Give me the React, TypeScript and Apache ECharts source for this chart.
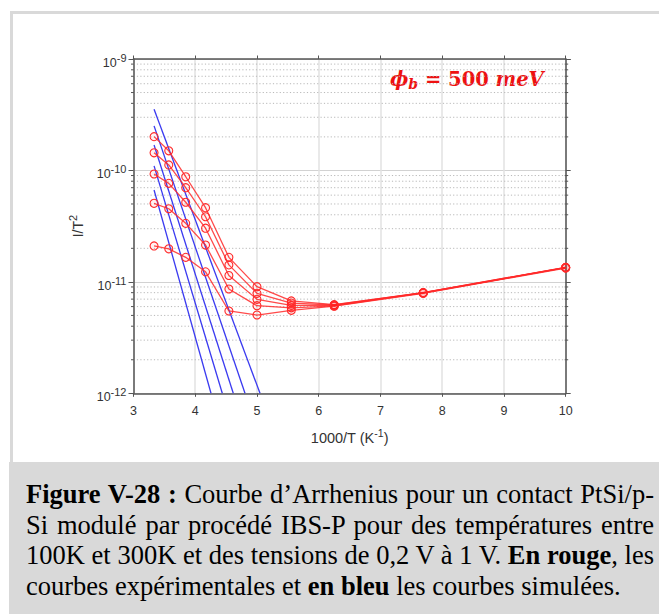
import React, { useEffect, useRef } from "react";
import * as echarts from "echarts";

// 1000/T values (K^-1) for T = 300, 280, 260, 240, 220, 200, 180, 160, 130, 100 K
const invT = [3.333, 3.571, 3.846, 4.167, 4.545, 5.0, 5.556, 6.25, 7.692, 10];

// Experimental I/T^2 curves (red), from highest to lowest bias
const exp1 = [2.01e-10, 1.5e-10, 8.78e-11, 4.63e-11, 1.66e-11, 9.05e-12, 6.74e-12, 6.25e-12, 8.0e-12, 1.35e-11];
const exp2 = [1.44e-10, 1.12e-10, 7.0e-11, 3.84e-11, 1.42e-11, 7.89e-12, 6.45e-12, 6.2e-12, 8.0e-12, 1.35e-11];
const exp3 = [9.29e-11, 7.66e-11, 5.18e-11, 3.03e-11, 1.14e-11, 6.97e-12, 6.15e-12, 6.15e-12, 7.95e-12, 1.34e-11];
const exp4 = [5.07e-11, 4.53e-11, 3.35e-11, 2.14e-11, 8.63e-12, 6.11e-12, 5.85e-12, 6.1e-12, 7.95e-12, 1.34e-11];
const exp5 = [2.1e-11, 1.98e-11, 1.66e-11, 1.23e-11, 5.48e-12, 5.04e-12, 5.55e-12, 6.05e-12, 7.9e-12, 1.33e-11];
const expCurves = [exp1, exp2, exp3, exp4, exp5];

// Simulated curves (blue): start point and end point on the 1e-12 floor
const simStartX = 3.333;
const simStartY = [3.54e-10, 2.51e-10, 1.69e-10, 1.1e-10, 6.67e-11];
const simEndX = [5.049, 4.806, 4.616, 4.438, 4.255];
const simEndY = 1e-12;

// Axis ranges
const xMin = 3;
const xMax = 10;
const yMin = 1e-12;
const yMax = 1e-9;
const minorMultipliers = [2, 3, 4, 5, 6, 7, 8, 9];
const decadeExps = [-12, -11, -10];

const captionLines = [
  [{ b: true, t: "Figure V-28 :" }, { b: false, t: " Courbe d\u2019Arrhenius pour un contact PtSi/p-" }],
  [{ b: false, t: "Si modulé par procédé IBS-P pour des températures entre" }],
  [{ b: false, t: "100K et 300K et des tensions de 0,2 V à 1 V. " }, { b: true, t: "En rouge" }, { b: false, t: ", les" }],
  [{ b: false, t: "courbes expérimentales et " }, { b: true, t: "en bleu" }, { b: false, t: " les courbes simulées." }],
];

const SANS = "'Liberation Sans', Arial, sans-serif";
const RED = "#ff2a2a";
const BLUE = "#3a3af0";

export default function App() {
  const ref = useRef<HTMLDivElement>(null);

  useEffect(() => {
    if (!ref.current) return;
    const chart = echarts.init(ref.current, undefined, { renderer: "svg" });

    const minorY: number[] = [];
    decadeExps.forEach((e) => minorMultipliers.forEach((m) => minorY.push(m * Math.pow(10, e))));

    const axisLineStyle = { color: "#555", width: 1.5 };

    const series: any[] = [];

    series.push({
      type: "custom",
      silent: true,
      clip: false,
      z: 1,
      data: minorY.map((v) => [xMin, v]),
      renderItem: (params: any, api: any) => {
        const cs = params.coordSys;
        const y = api.coord([xMin, api.value(1)])[1];
        return {
          type: "group",
          children: [
            { type: "line", shape: { x1: cs.x, y1: y, x2: cs.x + cs.width, y2: y }, style: { stroke: "#b8b8b8", lineWidth: 1, lineDash: [1.2, 2.2] } },
            { type: "line", shape: { x1: cs.x - 2.5, y1: y, x2: cs.x + 1, y2: y }, style: { stroke: "#555", lineWidth: 1 } },
            { type: "line", shape: { x1: cs.x + cs.width - 1, y1: y, x2: cs.x + cs.width + 2.5, y2: y }, style: { stroke: "#555", lineWidth: 1 } },
          ],
        };
      },
    });

    simStartY.forEach((s, i) => {
      series.push({
        type: "line",
        z: 3,
        showSymbol: false,
        data: [
          [simStartX, s],
          [simEndX[i], simEndY],
        ],
        lineStyle: { color: BLUE, width: 1.3 },
      });
    });

    expCurves.forEach((c) => {
      series.push({
        type: "line",
        z: 4,
        symbol: "circle",
        symbolSize: 8,
        data: invT.map((x, i) => [x, c[i]]),
        lineStyle: { color: RED, width: 1.3, opacity: 0.85 },
        itemStyle: { color: "rgba(255,0,0,0.05)", borderColor: RED, borderWidth: 1.1 },
      });
    });

    const yLabelRich = {
      b: { fontSize: 12.5, color: "#333", fontFamily: SANS },
      s: { fontSize: 11, color: "#333", fontFamily: SANS, padding: [0, 0, 10, 0] },
    };

    const serif = "'DejaVu Serif', serif";
    chart.setOption({
      animation: false,
      grid: { left: 133.5, right: 93.3, top: 59, bottom: 68.7 },
      graphic: [
        {
          type: "text",
          left: 390,
          top: 69,
          style: {
            text: "{p|ϕ}{s|b}{n| = 500 }{m|meV}",
            fill: "#ee1111",
            rich: {
              p: { fontFamily: serif, fontWeight: "bold", fontStyle: "italic", fontSize: 19.5, fill: "#ee1111" },
              s: { fontFamily: serif, fontWeight: "bold", fontStyle: "italic", fontSize: 14, fill: "#ee1111", padding: [9, 0, 0, 0] },
              n: { fontFamily: serif, fontWeight: "bold", fontSize: 19.5, fill: "#ee1111" },
              m: { fontFamily: serif, fontWeight: "bold", fontStyle: "italic", fontSize: 19.5, fill: "#ee1111" },
            },
          },
        },
      ],
      xAxis: [
        {
          type: "value",
          min: xMin,
          max: xMax,
          interval: 1,
          position: "bottom",
          name: "1000/T (K{s|-1})",
          nameLocation: "middle",
          nameGap: 34,
          nameTextStyle: {
            fontSize: 14.5,
            color: "#333",
            fontFamily: SANS,
            rich: { s: { fontSize: 10.5, color: "#333", fontFamily: SANS, padding: [0, 0, 10, 0] } },
          },
          axisLine: { lineStyle: axisLineStyle },
          axisTick: { show: true, inside: false, length: 3.5, lineStyle: { color: "#555", width: 1 } },
          axisLabel: { color: "#333", fontSize: 12.5, fontFamily: SANS, margin: 11 },
          splitLine: { show: true, lineStyle: { color: "#e2e2e2", width: 1.5 } },
        },
        {
          type: "value",
          min: xMin,
          max: xMax,
          interval: 1,
          position: "top",
          axisLine: { lineStyle: axisLineStyle },
          axisTick: { show: true, inside: false, length: 3.5, lineStyle: { color: "#555", width: 1 } },
          axisLabel: { show: false },
          splitLine: { show: false },
        },
      ],
      yAxis: [
        {
          type: "log",
          logBase: 10,
          min: yMin,
          max: yMax,
          position: "left",
          name: "I/T{s|2}",
          nameLocation: "middle",
          nameRotate: 90,
          nameGap: 45,
          nameTextStyle: {
            fontSize: 14,
            color: "#333",
            fontFamily: SANS,
            rich: { s: { fontSize: 11, color: "#333", fontFamily: SANS, padding: [0, 0, 10, 0] } },
          },
          axisLine: { lineStyle: axisLineStyle },
          axisTick: { show: true, inside: false, length: 5, lineStyle: { color: "#555", width: 1 } },
          axisLabel: {
            margin: 7,
            fontSize: 12.5,
            padding: [8, 0, 0, 0],
            formatter: (v: number) => `{b|10}{s|${Math.round(Math.log10(v))}}`,
            rich: yLabelRich,
          },
          splitLine: { show: true, lineStyle: { color: "#d2d2d2", width: 1 } },
        },
        {
          type: "log",
          logBase: 10,
          min: yMin,
          max: yMax,
          position: "right",
          axisLine: { lineStyle: axisLineStyle },
          axisTick: { show: true, inside: false, length: 5, lineStyle: { color: "#555", width: 1 } },
          axisLabel: { show: false },
          splitLine: { show: false },
        },
      ],
      series,
    });

    return () => chart.dispose();
  }, []);

  return (
    <div style={{ position: "fixed", left: 0, top: 0, width: 659, height: 615, background: "#fff", overflow: "hidden" }}>
      <div
        style={{
          position: "absolute",
          left: 10,
          top: 11,
          width: 680,
          height: 470,
          borderTop: "3px solid #d9d9d9",
          borderLeft: "3px solid #d9d9d9",
          boxSizing: "border-box",
        }}
      />
      <div ref={ref} style={{ position: "absolute", left: 0, top: 0, width: 659, height: 462 }} />
      <div style={{ position: "absolute", left: 9, top: 462, width: 660, height: 152, background: "#d9d9d9" }}>
        <div
          style={{
            position: "absolute",
            left: 17,
            top: 17,
            width: 628,
            fontFamily: "'Liberation Serif', 'Times New Roman', serif",
            fontSize: 26.5,
            lineHeight: "30.5px",
            color: "#000",
          }}
        >
          {captionLines.map((line, li) => (
            <div
              key={li}
              style={{
                whiteSpace: "nowrap",
                textAlign: li < captionLines.length - 1 ? "justify" : "left",
                textAlignLast: li < captionLines.length - 1 ? "justify" : "left",
              }}
            >
              {line.map((seg, si) => (
                <span key={si} style={{ fontWeight: seg.b ? "bold" : "normal" }}>
                  {seg.t}
                </span>
              ))}
            </div>
          ))}
        </div>
      </div>
    </div>
  );
}
